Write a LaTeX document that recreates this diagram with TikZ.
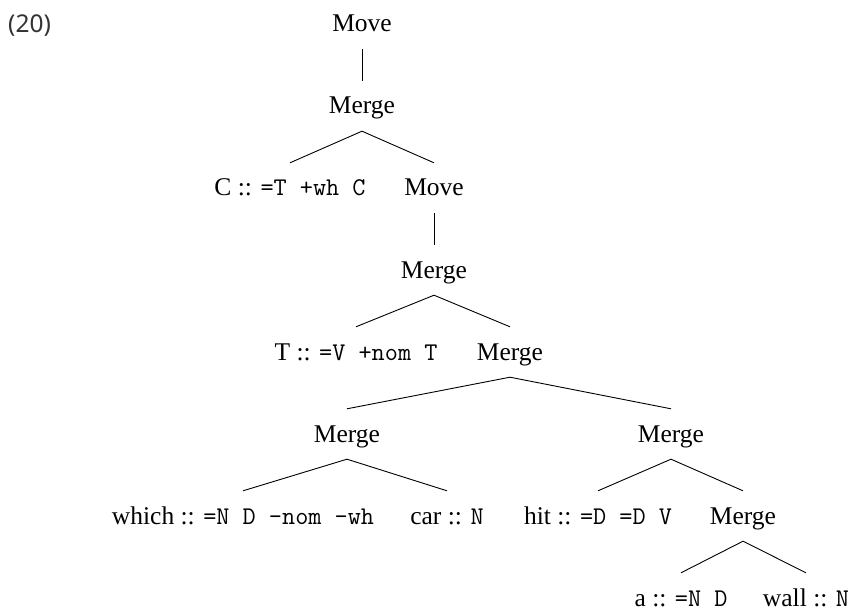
\documentclass[tikz,border=0pt]{standalone}
\usepackage{fontspec}
\setmainfont{Liberation Serif}
\newfontfamily\exfont{Noto Sans}
\begin{document}
\begin{tikzpicture}[x=1pt,y=-1pt,
  tn/.style={anchor=base, inner xsep=0pt, inner ysep=17pt, text height=16pt, text depth=0pt,
             font=\fontsize{25.5}{30}\selectfont},
  edge/.style={draw, line width=0.9pt}]
\useasboundingbox (0,0) rectangle (850,612);
\node[anchor=base west, inner sep=0pt, text=black!80,
      font=\exfont\fontsize{24.5}{28}\selectfont] (ex) at (8,33) {(20)};
% level 0
\node[tn] (mv1) at (362,32) {Move};
% level 1
\node[tn] (mg1) at (362,114) {Merge};
% level 2
\node[tn] (c)   at (290,196) {C :: \texttt{=T +wh C}};
\node[tn] (mv2) at (434,196) {Move};
% level 3
\node[tn] (mg2) at (434,278) {Merge};
% level 4
\node[tn] (t)   at (356,360) {T :: \texttt{=V +nom T}};
\node[tn] (mg3) at (510,360) {Merge};
% level 5
\node[tn] (mg4) at (347,442) {Merge};
\node[tn] (mg5) at (671,442) {Merge};
% level 6
\node[tn] (wh)  at (243,524) {which :: \texttt{=N D -nom -wh}};
\node[tn] (car) at (447,524) {car :: \texttt{N}};
\node[tn] (hit) at (598,524) {hit :: \texttt{=D =D V}};
\node[tn] (mg6) at (743,524) {Merge};
% level 7
\node[tn] (a)    at (681,606) {a :: \texttt{=N D}};
\node[tn] (wall) at (806,606) {wall :: \texttt{N}};
% edges
\draw[edge] (mv1.south) -- (mg1.north);
\draw[edge] (c.north) -- (mg1.south) -- (mv2.north);
\draw[edge] (mv2.south) -- (mg2.north);
\draw[edge] (t.north) -- (mg2.south) -- (mg3.north);
\draw[edge] (mg4.north) -- (mg3.south) -- (mg5.north);
\draw[edge] (wh.north) -- (mg4.south) -- (car.north);
\draw[edge] (hit.north) -- (mg5.south) -- (mg6.north);
\draw[edge] (a.north) -- (mg6.south) -- (wall.north);
\end{tikzpicture}
\end{document}
